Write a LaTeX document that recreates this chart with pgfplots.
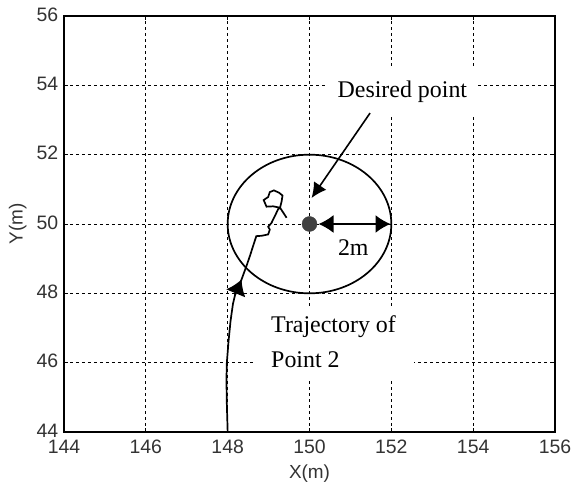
\documentclass[border=0pt]{standalone}
\usepackage{fontspec}
\setmainfont{Liberation Serif}
\newfontfamily\tickfont{Liberation Sans}
\usepackage{pgfplots}
\pgfplotsset{compat=1.18}
\usetikzlibrary{arrows.meta}
\pgfplotstableread{
x y
148.00 44.00
147.98 44.80
147.97 45.50
147.98 46.00
148.02 46.60
148.07 47.20
148.13 47.70
148.20 48.05
148.33 48.37
148.46 48.79
148.55 49.10
148.62 49.36
148.70 49.65
148.83 49.66
148.99 49.70
149.03 49.84
148.99 49.92
149.07 50.03
149.15 50.22
149.23 50.42
149.28 50.47
149.32 50.66
149.34 50.82
149.26 50.90
149.13 50.97
149.03 50.92
148.99 50.78
148.88 50.69
148.95 50.50
149.11 50.51
149.28 50.47
149.44 50.18
}\traj
\begin{document}
\begin{tikzpicture}
\useasboundingbox (-64bp,-54bp) rectangle (507bp,432bp);
\begin{axis}[
  scale only axis,
  width=491bp, height=416bp,
  xmin=144, xmax=156, ymin=44, ymax=56,
  xtick={144,146,...,156}, ytick={44,46,...,56},
  grid=major,
  major grid style={black, line width=0.8bp, dash pattern=on 3bp off 3bp},
  axis line style={black, line width=1.8bp},
  tick style={black, line width=0.9bp},
  tick align=inside,
  major tick length=4bp,
  /pgf/number format/assume math mode=true,
  /pgf/number format/1000 sep={},
  tick label style={font=\fontsize{19.5}{19.5}\selectfont\tickfont, text=black!80, inner sep=0.5bp},
  xticklabel style={yshift=-7bp},
  yticklabel style={xshift=-5bp, yshift=1.5bp},
  label style={font=\fontsize{19}{19}\selectfont\tickfont, text=black!80},
  xlabel={X(m)}, ylabel={Y(m)},
  xlabel style={at={(axis description cs:0.5,-0.099)}, anchor=center},
  ylabel style={at={(axis description cs:-0.094,0.5)}, anchor=center},
  clip=false,
]
\draw[black, line width=1.7bp] (axis cs:150,50) ellipse [x radius=2, y radius=2];
\addplot[black, line width=1.7bp] table[x=x, y=y] {\traj};
\addplot[black, line width=1.7bp, -{Latex[length=15bp,width=21bp]}] coordinates {(148.18,47.95) (148.34,48.40)};
\addplot[only marks, mark=*, mark size=7.5bp, mark options={fill=black!75, draw=black!75}] coordinates {(150,50)};
\draw[black, line width=1.6bp, {Latex[length=15bp,width=18bp]}-{Latex[length=15bp,width=18bp]}] (axis cs:150.22,50) -- (axis cs:151.98,50);
\node[font=\fontsize{24}{24}\selectfont] at (axis cs:151.07,49.32) {2m};
\node[fill=white, inner xsep=10bp, inner ysep=12bp, font=\fontsize{24}{24}\selectfont] at (axis cs:152.27,53.82) {Desired point};
\draw[black, line width=1.6bp, -{Latex[length=15bp,width=15bp]}] (axis cs:151.48,53.2) -- (axis cs:150.05,50.75);
\node[fill=white, anchor=west, align=left, inner xsep=18bp, inner ysep=10bp, font=\fontsize{24}{35}\selectfont] at (axis cs:148.62,46.6) {Trajectory of\\Point 2};
\end{axis}
\end{tikzpicture}
\end{document}
